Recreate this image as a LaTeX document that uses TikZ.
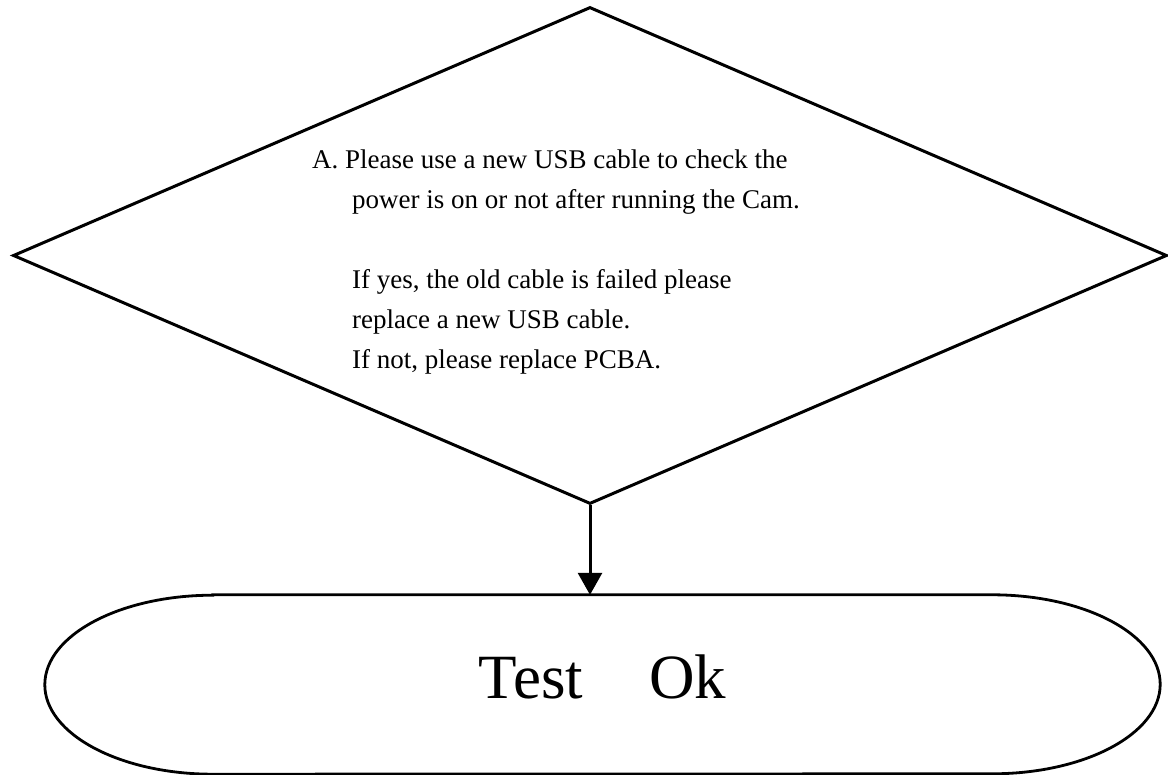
\documentclass[tikz,border=0pt]{standalone}
\usepackage{fontspec}
\setmainfont{Liberation Serif}
\usepackage{tikz}
\usetikzlibrary{arrows.meta, calc, shapes.geometric}

\begin{document}
\begin{tikzpicture}[x=1pt,y=-1pt,
		checkbox/.style={diamond,draw,line width=3pt,minimum width=1154pt,minimum height=497pt,inner sep=0pt},
		termbox/.style={rectangle,minimum width=1115pt,minimum height=179pt,inner sep=0pt,font=\fontsize{63}{70}\selectfont,text depth=16pt},
		termline/.style={line width=2.8pt},
		flowarrow/.style={-{Triangle[width=24pt,length=22pt]},line width=3pt}]
		\useasboundingbox (0,0) rectangle (1168,775);
		\node[checkbox] (chk) at (590,255.5) {};
		\node[anchor=base west,align=left,inner sep=0pt,font=\fontsize{27}{40}\selectfont] (msg) at (312,369)
			{A. Please use a new USB cable to check the\\
			\hspace*{40pt}power is on or not after running the Cam.\\[40pt]
			\hspace*{40pt}If yes, the old cable is failed please\\
			\hspace*{40pt}replace a new USB cable.\\
			\hspace*{40pt}If not, please replace PCBA.};
		\node[termbox] (tst) at (602.5,684.5) {Test\hspace{1.05em}Ok};
		\draw[termline] ([xshift=168pt]tst.north west) -- ([xshift=-168pt]tst.north east)
			arc[start angle=90,end angle=-90,x radius=168pt,y radius=89.5pt]
			-- ([xshift=168pt]tst.south west)
			arc[start angle=270,end angle=90,x radius=168pt,y radius=89.5pt] -- cycle;
		\draw[flowarrow] (chk.south) -- (chk.south |- tst.north);
	\end{tikzpicture}
\end{document}
